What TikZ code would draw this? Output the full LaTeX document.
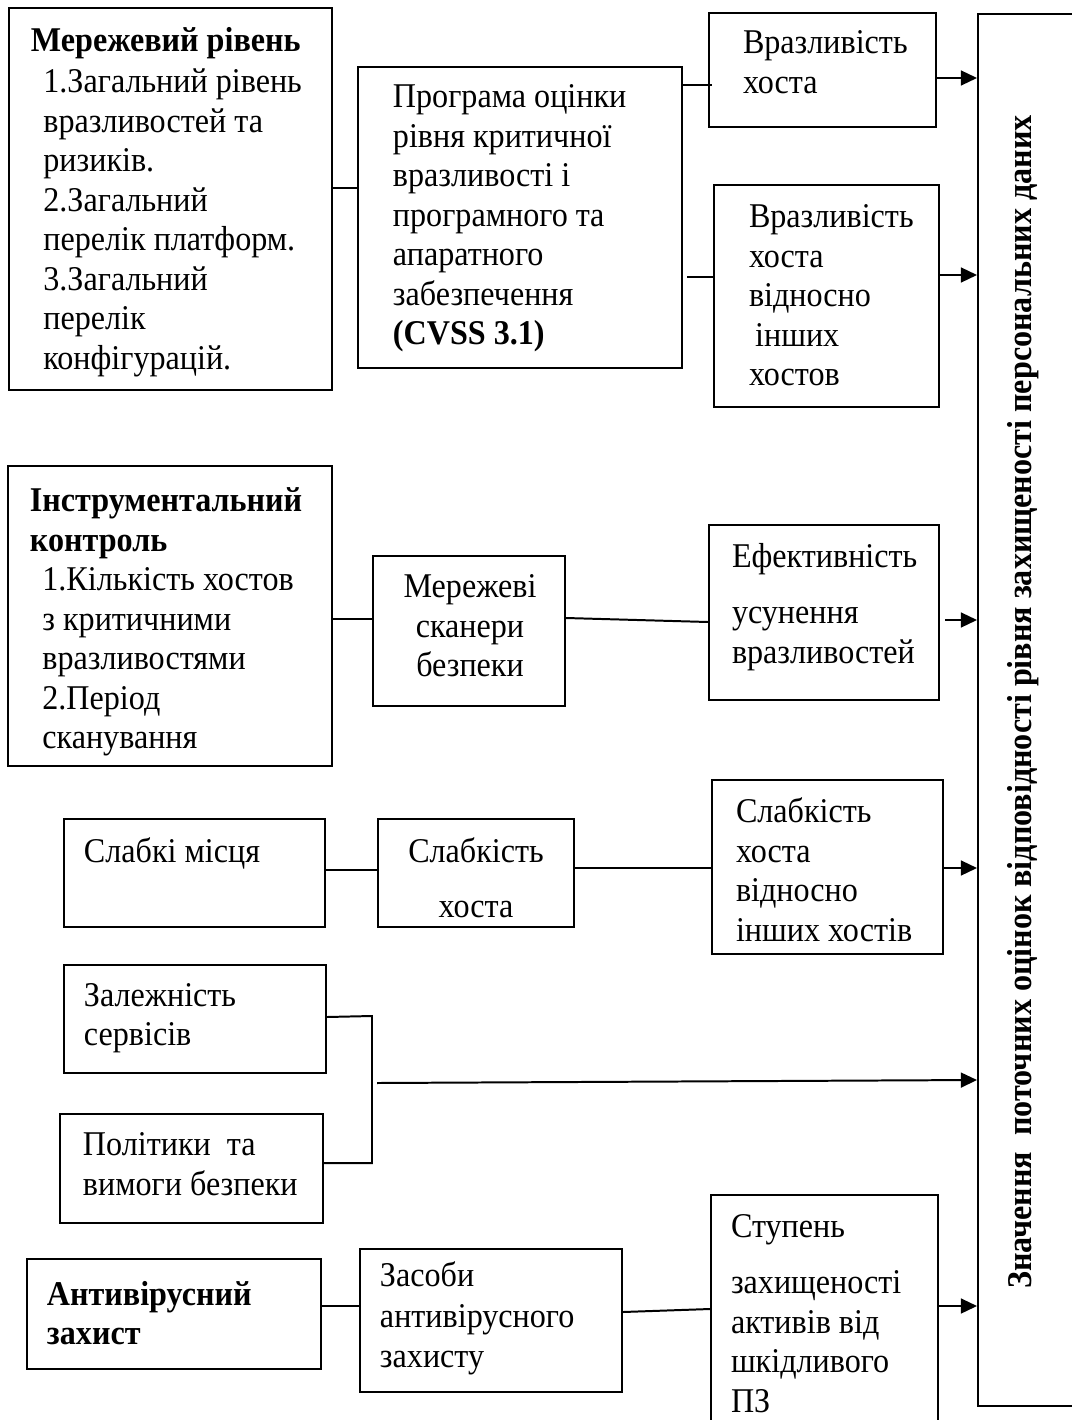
\documentclass[tikz,border=0pt]{standalone}
\usepackage{fontspec}
\setmainfont{Liberation Serif}[FakeStretch=0.925]
\usetikzlibrary{arrows.meta,fit}
\newcommand\ind{\hspace*{5pt}}
\begin{document}
\begin{tikzpicture}[x=0.4032pt,y=-0.4032pt,
  line width=0.8pt,
  box/.style={draw,line width=0.8pt,inner sep=0pt},
  txt/.style={inner sep=0pt,align=left,anchor=north west,font=\fontsize{14}{15.9}\selectfont},
  ctxt/.style={txt,align=center,anchor=north},
  arr/.style={-{Triangle[length=6.5pt,width=6pt]}}]
\useasboundingbox (0,0) rectangle (1072,1420);

% boxes
\node[box,fit={(9,8) (332,390)}] (b1) {};
\node[box,fit={(358,67) (682,368)}] (b2) {};
\node[box,fit={(709,13) (936,127)}] (b3) {};
\node[box,fit={(714,185) (939,407)}] (b4) {};
\node[box,fit={(8,466) (332,766)}] (b5) {};
\node[box,fit={(373,556) (565,706)}] (b6) {};
\node[box,fit={(709,525) (939,700)}] (b7) {};
\node[box,fit={(64,819) (325,927)}] (b8) {};
\node[box,fit={(378,819) (574,927)}] (b9) {};
\node[box,fit={(712,780) (943,954)}] (b10) {};
\node[box,fit={(64,965) (326,1073)}] (b11) {};
\node[box,fit={(60,1114) (323,1223)}] (b12) {};
\node[box,fit={(27,1259) (321,1369)}] (b13) {};
\node[box,fit={(360,1249) (622,1392)}] (b14) {};
\node[box,fit={(711,1195) (938,1450)}] (b15) {};
\node[box,fit={(978,14) (1095,1406)}] (big) {};

% texts
\node[txt] (t1) at (30,26) {\textbf{Мережевий рівень}\\[1pt]
  \ind 1.Загальний рівень\\ \ind вразливостей та\\ \ind ризиків.\\
  \ind 2.Загальний\\ \ind перелік платформ.\\ \ind 3.Загальний\\
  \ind перелік\\ \ind конфігурацій.};
\node[txt] (t2) at (392,84) {Програма оцінки\\рівня критичної\\вразливості і\\
  програмного та\\апаратного\\забезпечення\\\textbf{(CVSS 3.1)}};
\node[txt] (t3) at (742,30) {Вразливість\\хоста};
\node[txt] (t4) at (748,204) {Вразливість\\хоста\\відносно\\\hspace*{2.5pt}інших\\хостов};
\node[txt] (t5) at (29,487) {\textbf{Інструментальний}\\\textbf{контроль}\\
  \ind 1.Кількість хостов\\ \ind з критичними\\ \ind вразливостями\\
  \ind 2.Період\\ \ind сканування};
\node[ctxt] (t6) at (470,574) {Мережеві\\сканери\\безпеки};
\node[txt] (t7) at (731,542) {Ефективність\\[6.9pt]усунення\\вразливостей};
\node[txt] (t8) at (83,837) {Слабкі місця};
\node[ctxt] (t9) at (476,837) {Слабкість\\[6.3pt]хоста};
\node[txt] (t10) at (735,797) {Слабкість\\хоста\\відносно\\інших хостів};
\node[txt] (t11) at (83,982) {Залежність\\сервісів};
\node[txt] (t12) at (82,1132) {Політики\ \ та\\вимоги безпеки};
\node[txt] (t13) at (46,1280) {\textbf{Антивірусний}\\\textbf{захист}};
\node[txt,font=\fontsize{14}{16.3}\selectfont] (t14) at (379,1261) {Засоби\\антивірусного\\захисту};
\node[txt] (t15) at (730,1213) {Ступень\\[7pt]захищеності\\активів від\\шкідливого\\ПЗ};
\node[inner sep=0pt,rotate=90,anchor=base,font=\fontsize{14}{16}\selectfont\bfseries]
  (tv) at (1031,702) {Значення\ \ поточних оцінок відповідності рівня захищеності персональних даних};

% connectors
\draw (b1.east |- 0,188) -- (b2.west |- 0,188);
\draw (b2.east |- 0,85) -- (712,85);
\draw (687,277) -- (b4.west |- 0,277);
\draw (b5.east |- 0,619) -- (b6.west |- 0,619);
\draw (b6.east |- 0,618) -- (b7.west |- 0,622);
\draw (b8.east |- 0,870) -- (b9.west |- 0,870);
\draw (b9.east |- 0,868) -- (b10.west |- 0,868);
\coordinate (bt) at (372,1016);
\coordinate (bb) at (372,1163);
\draw (b11.east |- 0,1017) -- (bt) -- (bb) -- (b12.east |- 0,1163);
\coordinate (jn) at (377,1083);
\draw (b13.east |- 0,1306) -- (b14.west |- 0,1306);
\draw (b14.east |- 0,1312) -- (b15.west |- 0,1309);

% arrows into the result box
\draw[arr] (b3.east |- 0,78) -- (big.west |- 0,78);
\draw[arr] (b4.east |- 0,275) -- (big.west |- 0,275);
\draw[arr] (945,620) -- (big.west |- 0,620);
\draw[arr] (b10.east |- 0,868) -- (big.west |- 0,868);
\draw[arr] (jn) -- (big.west |- 0,1080);
\draw[arr] (b15.east |- 0,1306) -- (big.west |- 0,1306);
\end{tikzpicture}
\end{document}
